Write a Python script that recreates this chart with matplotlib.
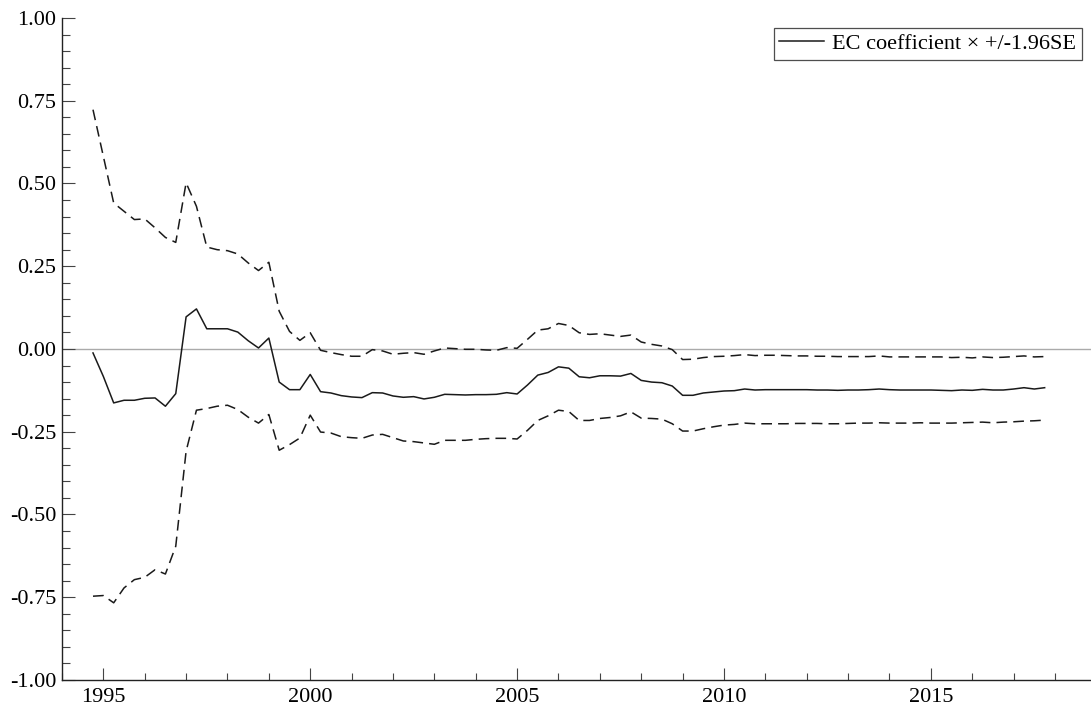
import matplotlib.pyplot as plt
import numpy as np
from matplotlib.ticker import MultipleLocator, FormatStrFormatter

# quarterly, 1994Q4 .. 2017Q4
start_year = 1994.75
n_quarters = 93

coef = [-0.012, -0.083, -0.163, -0.155, -0.155, -0.149, -0.148, -0.173, -0.135, 0.097,
        0.121, 0.061, 0.061, 0.061, 0.051, 0.025, 0.003, 0.033, -0.100, -0.123,
        -0.123,
        -0.077, -0.129, -0.133, -0.141, -0.145, -0.147, -0.132, -0.133, -0.142, -0.146,
        -0.144, -0.151, -0.146, -0.137, -0.138, -0.139, -0.138, -0.138, -0.137, -0.132,
        -0.136, -0.109, -0.079, -0.071, -0.054, -0.058, -0.084, -0.087, -0.081, -0.081,
        -0.082,
        -0.074, -0.095, -0.100, -0.102, -0.112, -0.140, -0.140, -0.133, -0.130, -0.127,
        -0.126, -0.121,
        -0.124, -0.123, -0.123, -0.123, -0.123, -0.123, -0.124, -0.124, -0.125, -0.124,
        -0.124, -0.123, -0.121, -0.123, -0.124, -0.124, -0.124, -0.124, -0.125, -0.126,
        -0.124, -0.125, -0.122, -0.124, -0.124, -0.121, -0.117, -0.121, -0.117]

upper = [0.723, 0.582, 0.441, 0.416, 0.391, 0.393, 0.366, 0.337, 0.322, 0.502,
         0.431, 0.308, 0.300, 0.297, 0.287, 0.260, 0.237, 0.262, 0.114, 0.053,
         0.026,
         0.049, -0.004, -0.011, -0.017, -0.022, -0.022, -0.002, -0.006, -0.016, -0.013,
         -0.011, -0.016, -0.006, 0.003, 0.001, -0.001, -0.001, -0.003, -0.004, 0.004,
         0.002, 0.029, 0.057, 0.061, 0.077, 0.071, 0.049, 0.044, 0.046, 0.042,
         0.038,
         0.042, 0.021, 0.014, 0.009, -0.002, -0.032, -0.031, -0.026, -0.023, -0.022,
         -0.020, -0.017,
         -0.020, -0.019, -0.019, -0.020, -0.021, -0.021, -0.022, -0.022, -0.023, -0.023,
         -0.023, -0.023, -0.021, -0.024, -0.024, -0.024, -0.024, -0.024, -0.024, -0.026,
         -0.025, -0.027, -0.024, -0.026, -0.025, -0.023, -0.021, -0.024, -0.023]

lower = [-0.747, -0.745, -0.767, -0.722, -0.697, -0.690, -0.667, -0.680, -0.596, -0.309,
         -0.185, -0.180, -0.173, -0.170, -0.183, -0.206, -0.224, -0.198, -0.306, -0.289,
         -0.269,
         -0.200, -0.251, -0.254, -0.265, -0.268, -0.270, -0.260, -0.258, -0.268, -0.278,
         -0.280, -0.284, -0.288, -0.276, -0.276, -0.276, -0.273, -0.271, -0.270, -0.270,
         -0.272, -0.246, -0.216, -0.202, -0.185, -0.189, -0.216, -0.216, -0.210, -0.207,
         -0.202,
         -0.190, -0.209, -0.210, -0.212, -0.226, -0.248, -0.248, -0.241, -0.235, -0.230,
         -0.228, -0.224,
         -0.226, -0.226, -0.226, -0.226, -0.225, -0.225, -0.225, -0.226, -0.226, -0.225,
         -0.224, -0.224, -0.223, -0.224, -0.224, -0.224, -0.223, -0.224, -0.224, -0.224,
         -0.223, -0.222, -0.221, -0.223, -0.221, -0.220, -0.218, -0.217, -0.215]

year_ticks = [1995, 2000, 2005, 2010, 2015]

t = start_year + 0.25 * np.arange(n_quarters)

plt.rcParams['font.family'] = 'Liberation Serif'
plt.rcParams['font.size'] = 16

fig = plt.figure(figsize=(10.91, 7.09), dpi=100)
ax = fig.add_axes([0.0568, 0.041, 0.9432, 0.9336])

line_col = '#1a1a1a'
ax.axhline(0, color='#aaaaaa', lw=1.0, zorder=1)
ax.plot(t, coef, color=line_col, lw=1.1, label='EC coefficient \u00d7 +/-1.96SE')
ax.plot(t, upper, color=line_col, lw=1.1, dashes=(7, 4))
ax.plot(t, lower, color=line_col, lw=1.1, dashes=(7, 4))

ax.set_xlim(1994.0, 2018.87)
ax.set_ylim(-1.0, 1.0)
ax.set_xticks(year_ticks)
ax.xaxis.set_minor_locator(MultipleLocator(1))
ax.yaxis.set_major_locator(MultipleLocator(0.25))
ax.yaxis.set_minor_locator(MultipleLocator(0.05))
ax.yaxis.set_major_formatter(FormatStrFormatter('%.2f'))

ax.spines['top'].set_visible(False)
ax.spines['right'].set_visible(False)
for s in ['left', 'bottom']:
    ax.spines[s].set_linewidth(1.0)
    ax.spines[s].set_color('#222222')

ax.tick_params(axis='both', which='major', direction='in', length=9, width=0.8,
               labelsize=16, color='#444444')
ax.tick_params(axis='y', which='minor', direction='in', length=6, width=0.8, color='#444444')
ax.tick_params(axis='x', which='minor', direction='in', length=5, width=0.8, color='#444444')
ax.tick_params(axis='y', pad=4)
ax.tick_params(axis='x', pad=6)

leg = ax.legend(loc='upper right', bbox_to_anchor=(0.9913, 0.985), frameon=True,
                fancybox=False, edgecolor='#222222', handlelength=2.0,
                borderpad=0.25, handletextpad=0.4, borderaxespad=0, fontsize=16)
leg.get_frame().set_linewidth(0.9)

fig.savefig('out.png', dpi=100)
